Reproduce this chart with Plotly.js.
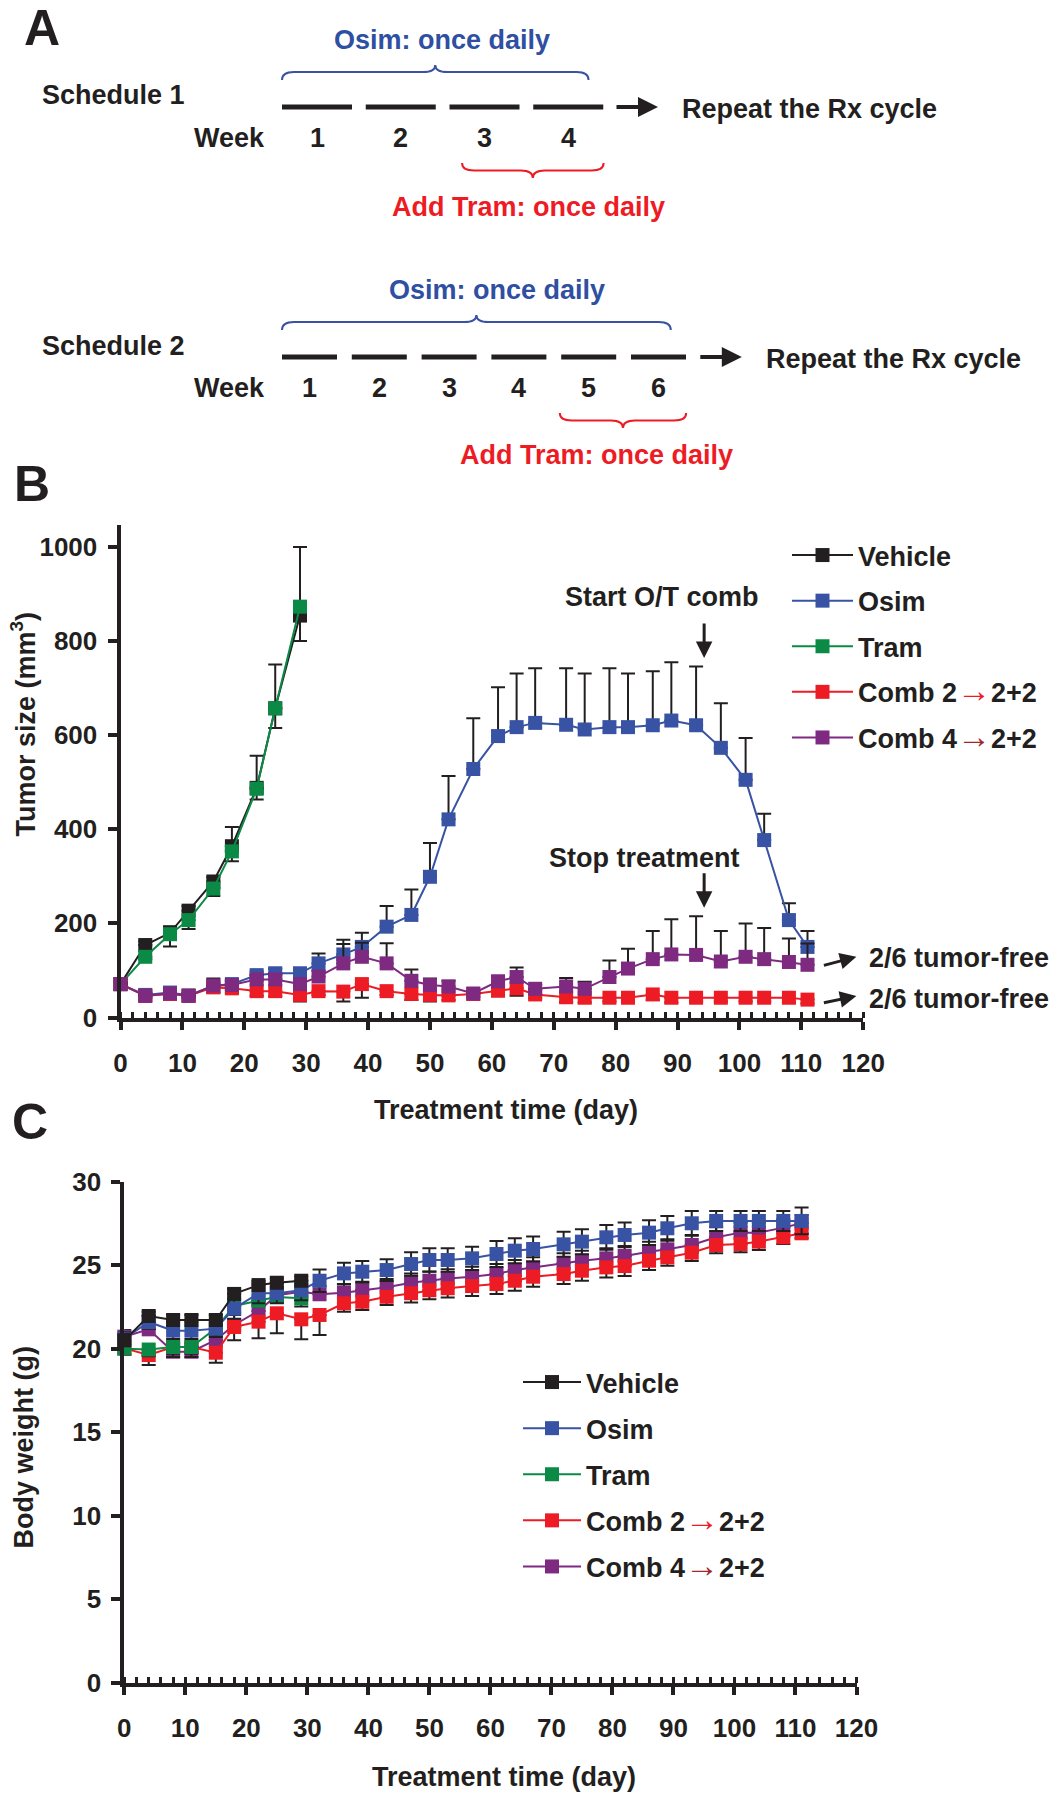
<!DOCTYPE html>
<html>
<head>
<meta charset="utf-8">
<script src="https://cdn.plot.ly/plotly-3.0.1.min.js"></script>
<style>body { margin: 0; background: #fff; }</style>
</head>
<body>
<div id="plot"></div>
<script>
// ---- Panel A: dosing schedules ----
var sched1Weeks = [1, 2, 3, 4];
var sched2Weeks = [1, 2, 3, 4, 5, 6];

// ---- Panel B: tumor size (mm3) ----
var daysShort = [0, 4, 8, 11, 15, 18, 22, 25, 29];
var daysLong = [0, 4, 8, 11, 15, 18, 22, 25, 29, 32, 36, 39, 43, 47, 50, 53, 57, 61, 64, 67,
                72, 75, 79, 82, 86, 89, 93, 97, 101, 104, 108, 111];

var tumorVehicle = [71, 154, 180, 227, 289, 364, 488, 657, 854];
var tumorVehicleErr = [4, 8, 14, 10, 9, 41, 68, 93, 146];
var tumorTram = [71, 129, 177, 207, 274, 353, 486, 657, 873];
var tumorTramErr = [4, 5, 26, 19, 16, 21, 23, 42, 73];
var tumorOsim = [71, 48, 53, 47, 67, 71, 90, 94, 94, 115, 134, 150, 193, 218, 299, 421, 528, 598, 617, 626,
                 622, 612, 617, 617, 621, 631, 621, 573, 505, 377, 207, 150];
var tumorOsimErr = [4, 5, 5, 5, 6, 8, 8, 10, 8, 21, 31, 30, 44, 54, 72, 92, 108, 104, 114, 116,
                    120, 119, 125, 114, 115, 124, 125, 95, 89, 56, 36, 34];
var tumorComb2 = [71, 46, 50, 46, 64, 62, 56, 56, 48, 56, 55, 71, 56, 50, 48, 47, 50, 57, 62, 49,
                  43, 42, 42, 42, 49, 42, 42, 42, 42, 42, 42, 38];
var tumorComb2Err = [3, 4, 6, 4, 12, 10, 10, 11, 14, 8, 21, 29, 8, 13, 14, 10, 6, 12, 16, 8,
                     10, 10, 8, 8, 12, 10, 8, 8, 8, 8, 10, 8];
var tumorComb4 = [71, 46, 51, 46, 68, 69, 81, 81, 71, 87, 115, 129, 115, 78, 69, 66, 51, 77, 86, 61,
                  66, 61, 86, 104, 124, 134, 133, 119, 129, 124, 118, 112];
var tumorComb4Err = [3, 5, 8, 5, 15, 8, 10, 10, 10, 12, 41, 30, 43, 24, 14, 12, 5, 10, 20, 8,
                     18, 15, 35, 42, 60, 75, 82, 65, 71, 66, 50, 45];

// ---- Panel C: body weight (g) ----
var weightVehicle = [20.5, 21.96, 21.72, 21.72, 21.72, 23.28, 23.81, 23.95, 24.07];
var weightVehicleErr = [0.4, 0.25, 0.3, 0.3, 0.3, 0.3, 0.25, 0.25, 0.25];
var weightTram = [20.0, 19.95, 20.1, 20.1, 21.22, 22.56, 22.88, 23.1, 23.02];
var weightTramErr = [0.3, 0.4, 0.4, 0.4, 0.4, 0.4, 0.3, 0.3, 0.5];
var weightOsim = [20.6, 21.6, 21.08, 21.08, 21.2, 22.4, 23.32, 23.32, 23.5, 24.07, 24.51, 24.61, 24.71, 25.07,
                  25.31, 25.31, 25.41, 25.67, 25.87, 25.97, 26.25, 26.41, 26.67, 26.81, 26.95, 27.21,
                  27.51, 27.65, 27.65, 27.65, 27.65, 27.65];
var weightOsimErr = [0.4, 0.4, 0.5, 0.5, 0.5, 0.6, 0.6, 0.6, 0.6, 0.68, 0.64, 0.64, 0.65, 0.7, 0.7, 0.7,
                     0.7, 0.78, 0.75, 0.75, 0.75, 0.75, 0.74, 0.74, 0.74, 0.74, 0.74, 0.6, 0.6, 0.6, 0.6, 0.8];
var weightComb2 = [20.02, 19.62, 20.1, 20.1, 19.76, 21.3, 21.62, 22.12, 21.76, 22.02, 22.72, 22.81, 23.11,
                   23.32, 23.5, 23.62, 23.75, 23.87, 24.07, 24.31, 24.47, 24.67, 24.87, 24.95, 25.27,
                   25.47, 25.75, 26.21, 26.27, 26.41, 26.67, 26.91];
var weightComb2Err = [0.4, 0.6, 0.6, 0.6, 0.6, 0.8, 1.0, 1.2, 1.2, 1.2, 0.5, 0.5, 0.5, 0.55, 0.54, 0.55,
                      0.6, 0.6, 0.6, 0.6, 0.6, 0.6, 0.6, 0.6, 0.55, 0.5, 0.5, 0.5, 0.5, 0.5, 0.4, 0.3];
var weightComb4 = [20.72, 21.16, 19.82, 19.82, 20.52, 21.42, 22.26, 23.2, 23.41, 23.26, 23.35, 23.51, 23.68,
                   23.95, 24.07, 24.21, 24.31, 24.47, 24.71, 24.87, 25.11, 25.27, 25.41, 25.55, 25.81,
                   25.95, 26.21, 26.67, 26.95, 26.95, 27.25, 27.51];
var weightComb4Err = [0.4, 0.4, 0.5, 0.5, 0.5, 0.6, 0.6, 0.5, 0.5, 0.5, 0.5, 0.5, 0.5, 0.55, 0.55, 0.55,
                      0.6, 0.6, 0.6, 0.6, 0.6, 0.6, 0.6, 0.6, 0.6, 0.6, 0.6, 0.6, 0.6, 0.6, 0.5, 0.5];

var W = 1058, H = 1800;
function px(x) { return x / W; }
function py(y) { return 1 - y / H; }

var FONT = '"Liberation Sans", Arial, sans-serif';
var INK = '#231f20';
var BLUE = '#3953a4', GREEN = '#0b8a45', RED = '#ed1c24', PURPLE = '#7d2a80';
var boldFont = function (size, color) {
    return {family: FONT, size: size, color: color || INK, weight: 'bold'};
};

var comb2Name = 'Comb 2<span style="color:#ed1c24;font-size:34px;font-weight:normal">→</span>2+2';
var comb4Name = 'Comb 4<span style="color:#a3262a;font-size:34px;font-weight:normal">→</span>2+2';

function errBars(err, dir) {
    var zeros = err.map(function () { return 0; });
    return {
        type: 'data', symmetric: false,
        array: dir === 'down' ? zeros : err,
        arrayminus: dir === 'up' ? zeros : err,
        color: INK, thickness: 2, width: 7
    };
}

function series(name, x, y, err, dir, color, panel, rank) {
    var c = panel === 'C';
    return {
        type: 'scatter', mode: 'lines+markers', name: name,
        x: x, y: y,
        xaxis: c ? 'x2' : 'x', yaxis: c ? 'y2' : 'y',
        legend: c ? 'legend2' : 'legend',
        legendgroup: panel + rank, legendrank: rank,
        line: {color: color, width: 2},
        marker: {symbol: 'square', size: 14, color: color, line: {width: 0}},
        error_y: errBars(err, dir),
        cliponaxis: false, hoverinfo: 'skip'
    };
}

var traces = [
    series('Vehicle', daysShort, tumorVehicle, tumorVehicleErr, 'up', INK, 'B', 1),
    series('Osim', daysLong, tumorOsim, tumorOsimErr, 'up', BLUE, 'B', 2),
    series('Tram', daysShort, tumorTram, tumorTramErr, 'down', GREEN, 'B', 3),
    series(comb2Name, daysLong, tumorComb2, tumorComb2Err, 'down', RED, 'B', 4),
    series(comb4Name, daysLong, tumorComb4, tumorComb4Err, 'up', PURPLE, 'B', 5),
    // panel C: drawn in reverse so vehicle sits on top
    series(comb4Name, daysLong, weightComb4, weightComb4Err, 'up', PURPLE, 'C', 5),
    series(comb2Name, daysLong, weightComb2, weightComb2Err, 'down', RED, 'C', 4),
    series('Tram', daysShort, weightTram, weightTramErr, 'down', GREEN, 'C', 3),
    series('Osim', daysLong, weightOsim, weightOsimErr, 'both', BLUE, 'C', 2),
    series('Vehicle', daysShort, weightVehicle, weightVehicleErr, 'up', INK, 'C', 1)
];

function mainAxis(extra) {
    return Object.assign({
        showgrid: false, zeroline: false, showline: true,
        linecolor: INK, linewidth: 4,
        ticks: 'outside', ticklen: 9, tickwidth: 4, tickcolor: INK,
        tickfont: boldFont(26), fixedrange: true
    }, extra);
}
function innerTicks(extra) {
    return Object.assign({
        showgrid: false, zeroline: false, showline: false, showticklabels: false,
        ticks: 'inside', ticklen: 9, tickwidth: 4, tickcolor: INK, fixedrange: true
    }, extra);
}
var xMinor = {ticks: 'inside', dtick: 2, ticklen: 6, tickwidth: 3, tickcolor: INK};
var tumorTicks = [0, 200, 400, 600, 800, 1000];
var weightTicks = [0, 5, 10, 15, 20, 25, 30];

// schedule axes (hidden), one unit = one week
var s1 = {x0: 282, unit: 83.75, dash: 70 / 83.75};
var s2 = {x0: 282, unit: 69.8, dash: 55 / 69.8};

var layout = {
    width: W, height: H,
    margin: {l: 0, r: 0, t: 0, b: 0},
    paper_bgcolor: '#fff', plot_bgcolor: 'rgba(0,0,0,0)',
    font: {family: FONT, color: INK},
    showlegend: true,
    xaxis: mainAxis({domain: [px(120.5), px(863.2)], range: [0, 120], anchor: 'y',
                     tick0: 0, dtick: 10, ticklen: 8, ticklabelstandoff: 11, minor: xMinor}),
    yaxis: mainAxis({domain: [py(1017.5), py(525)], range: [0, 1046.5], anchor: 'x',
                     tickvals: tumorTicks, ticklabelstandoff: 5}),
    xaxis3: innerTicks({overlaying: 'x', anchor: 'y', range: [0, 120], tick0: 0, dtick: 10, ticklen: 8}),
    yaxis3: innerTicks({overlaying: 'y', anchor: 'x', range: [0, 1046.5], tickvals: tumorTicks}),
    xaxis2: mainAxis({domain: [px(124.3), px(856.5)], range: [0, 120], anchor: 'y2',
                      tick0: 0, dtick: 10, ticklen: 8, ticklabelstandoff: 11, minor: xMinor}),
    yaxis2: mainAxis({domain: [py(1682.7), py(1181.7)], range: [0, 30], anchor: 'x2',
                      tickvals: weightTicks, ticklabelstandoff: 5}),
    xaxis4: innerTicks({overlaying: 'x2', anchor: 'y2', range: [0, 120], tick0: 0, dtick: 10, ticklen: 8}),
    yaxis4: innerTicks({overlaying: 'y2', anchor: 'x2', range: [0, 30], tickvals: weightTicks}),
    xaxis5: {domain: [0, 1], range: [-s1.x0 / s1.unit, (W - s1.x0) / s1.unit], anchor: 'y5', visible: false, fixedrange: true},
    xaxis6: {overlaying: 'x5', range: [-s2.x0 / s2.unit, (W - s2.x0) / s2.unit], anchor: 'y5', visible: false, fixedrange: true},
    yaxis5: {domain: [py(470), 1], range: [0, 1], anchor: 'x5', visible: false, fixedrange: true},
    legend: {x: px(787), xanchor: 'left', y: py(531), yanchor: 'top',
             font: boldFont(27), itemwidth: 61, traceorder: 'grouped', tracegroupgap: 7.5,
             bgcolor: 'rgba(0,0,0,0)', borderwidth: 0},
    legend2: {x: px(518), xanchor: 'left', y: py(1358), yanchor: 'top',
              font: boldFont(27), itemwidth: 58, traceorder: 'grouped', tracegroupgap: 8,
              bgcolor: 'rgba(0,0,0,0)', borderwidth: 0},
    shapes: [],
    annotations: []
};

function note(text, x, y, opts) {
    return Object.assign({
        text: text, x: x, y: y, xref: 'paper', yref: 'paper', showarrow: false,
        xanchor: 'center', yanchor: 'middle', font: boldFont(27)
    }, opts || {});
}
function arrow(xref, yref, x, y, ax, ay, width, size) {
    return {text: '', xref: xref, yref: yref, x: x, y: y, ax: ax, ay: ay,
            showarrow: true, arrowhead: 2, arrowwidth: width, arrowsize: size,
            arrowcolor: INK, standoff: 0};
}
function brace(xref, a, b, yEnd, yFlat, yPeak, r, color) {
    var m = (a + b) / 2;
    var p = 'M' + a + ',' + yEnd +
        ' Q' + a + ',' + yFlat + ' ' + (a + r) + ',' + yFlat +
        ' L' + (m - r) + ',' + yFlat +
        ' Q' + m + ',' + yFlat + ' ' + m + ',' + yPeak +
        ' Q' + m + ',' + yFlat + ' ' + (m + r) + ',' + yFlat +
        ' L' + (b - r) + ',' + yFlat +
        ' Q' + b + ',' + yFlat + ' ' + b + ',' + yEnd;
    return {type: 'path', xref: xref, yref: 'paper', path: p, line: {color: color, width: 2}};
}

var shapes = layout.shapes, notes = layout.annotations;

// schedule rows
function schedule(weeks, xref, s, rowY, lineY, weekY, label) {
    weeks.forEach(function (w) {
        shapes.push({type: 'line', xref: xref, yref: 'paper',
                     x0: w - 1, x1: w - 1 + s.dash, y0: py(lineY), y1: py(lineY),
                     line: {color: INK, width: 5}});
        notes.push(note(String(w), w - 1 + s.dash / 2, py(weekY), {xref: xref}));
    });
    var last = weeks[weeks.length - 1];
    notes.push(arrow(xref, 'paper', last + 41 / s.unit, py(lineY), -43, 0, 4, 1));
    notes.push(note('Repeat the Rx cycle', last + 63 / s.unit, py(lineY + 2), {xref: xref, xanchor: 'left'}));
    notes.push(note('Week', px(229), py(weekY)));
    notes.push(note(label, px(40), py(rowY), {xanchor: 'left'}));
}
schedule(sched1Weeks, 'x5', s1, 95, 107, 138, 'Schedule 1');
schedule(sched2Weeks, 'x6', s2, 346, 357, 388, 'Schedule 2');

shapes.push(brace('x5', 0, 3.66, py(80), py(72), py(65), 12 / s1.unit, BLUE));
shapes.push(brace('x5', 2.15, 3.84, py(163), py(170.5), py(178), 12 / s1.unit, RED));
shapes.push(brace('x6', 0, 5.57, py(330), py(322), py(315), 12 / s2.unit, BLUE));
shapes.push(brace('x6', 3.98, 5.79, py(413), py(420.5), py(428), 12 / s2.unit, RED));

notes.push(note('Osim: once daily', 1.91, py(40), {xref: 'x5', font: boldFont(27, '#2f4fa2')}));
notes.push(note('Add Tram: once daily', 2.94, py(207), {xref: 'x5', font: boldFont(27, RED)}));
notes.push(note('Osim: once daily', 3.08, py(290), {xref: 'x6', font: boldFont(27, '#2f4fa2')}));
notes.push(note('Add Tram: once daily', 4.51, py(455), {xref: 'x6', font: boldFont(27, RED)}));

// panel letters
notes.push(note('A', px(41.5), py(28), {font: boldFont(50)}));
notes.push(note('B', px(31.5), py(484), {font: boldFont(50)}));
notes.push(note('C', px(30), py(1122), {font: boldFont(50)}));

// panel B annotations
notes.push(note('Start O/T comb', px(662), py(597)));
notes.push(arrow('x', 'y', 94.3, 764, 0, -36, 3, 1.1));
notes.push(note('Stop treatment', px(644), py(858)));
notes.push(arrow('x', 'y', 94.3, 233, 0, -36, 3, 1.1));
notes.push(arrow('x', 'y', 118.9, 129, -34, 9, 3, 1.1));
notes.push(arrow('x', 'y', 118.9, 45.7, -34, 7, 3, 1.1));
notes.push(note('2/6 tumor-free', px(866.6), py(958), {xanchor: 'left'}));
notes.push(note('2/6 tumor-free', px(866.6), py(999), {xanchor: 'left'}));

// axis titles
notes.push(note('Tumor size (mm<sup>3</sup>)', px(23), py(724.6), {textangle: -90}));
notes.push(note('Treatment time (day)', px(505.5), py(1110)));
notes.push(note('Body weight (g)', px(23.5), py(1448), {textangle: -90}));
notes.push(note('Treatment time (day)', px(503.7), py(1777)));

Plotly.newPlot('plot', traces, layout, {displayModeBar: false, staticPlot: true});
</script>
</body>
</html>
